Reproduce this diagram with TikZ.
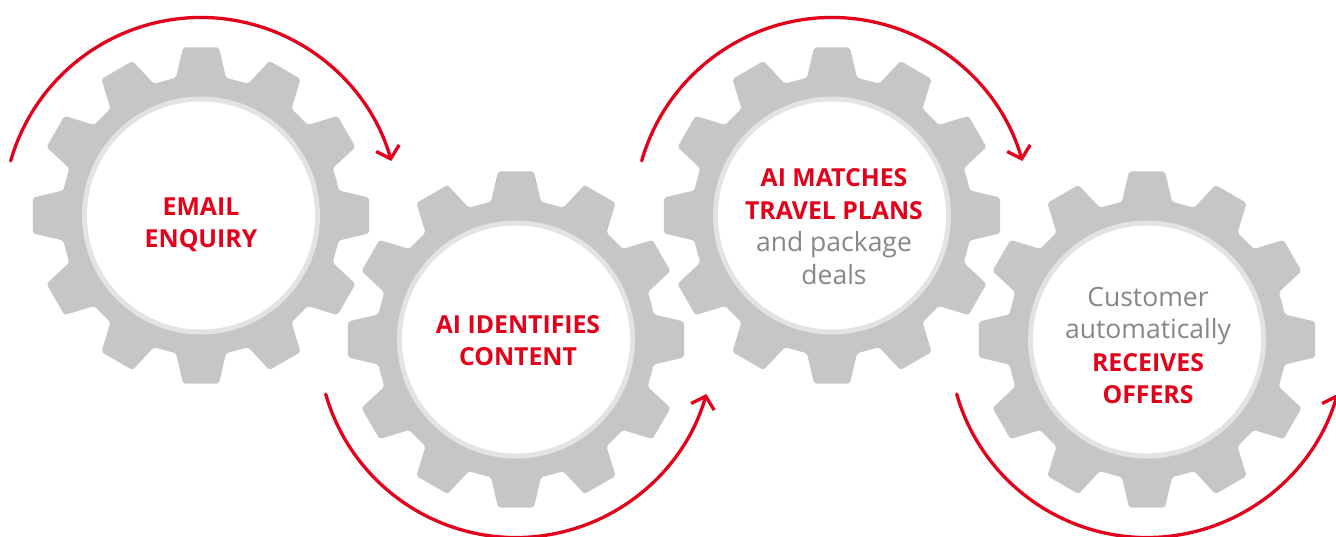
\documentclass[tikz,border=0pt]{standalone}
\usepackage{fontspec}
\setmainfont{Open Sans}
\usetikzlibrary{arrows.meta}
\definecolor{gearbody}{HTML}{C6C6C6}
\definecolor{gearring}{HTML}{E3E3E3}
\definecolor{offerred}{HTML}{E2001A}
\definecolor{notegray}{HTML}{878787}
\newcommand\redbf[1]{\textcolor{offerred}{\fontsize{24.8}{32.5}\selectfont\bfseries #1}}

\begin{document}
\begin{tikzpicture}[x=1pt,y=1pt,
  gear/.pic={
    \fill[gearbody,rounded corners=2pt] (15:140)
      \foreach \a in {30,60,...,360}{
        -- (\a-10.3:140) -- (\a-6.1:169) -- (\a+6.1:169) -- (\a+10.3:140)} -- cycle;
    \fill[gearring] (0,0) circle[radius=119pt];
    \fill[white] (0,0) circle[radius=114pt];
  },
  turn/.style={offerred,line width=3.3pt,line cap=round,
    -{Straight Barb[length=11pt,width=24pt]}},
  steptext/.style={align=center,text=notegray,
    font=\fontsize{26.5}{32.5}\selectfont}]
\useasboundingbox (0,0) rectangle (1336,536);
\clip (0,0) rectangle (1336,536);

\coordinate (g1) at (201,320.5);
\coordinate (g2) at (516,196.5);
\coordinate (g3) at (832,320.5);
\coordinate (g4) at (1147,196.5);

\foreach \g in {g1,g2,g3,g4}
  \pic at (\g) {gear};

\node[steptext] (email) at ([yshift=-9]g1) {\redbf{EMAIL}\\\redbf{ENQUIRY}};
\node[steptext] (ident) at ([xshift=2,yshift=-1]g2) {\redbf{AI IDENTIFIES}\\\redbf{CONTENT}};
\node[steptext] (match) at ([xshift=2,yshift=-11]g3) {\redbf{AI MATCHES}\\\redbf{TRAVEL PLANS}\\and package\\deals};
\node[steptext] (offer) at ([xshift=1,yshift=-6]g4) {Customer\\automatically\\\redbf{RECEIVES}\\\redbf{OFFERS}};

\draw[turn] (g1) ++(164:198) arc[start angle=164,end angle=16,radius=198pt];
\draw[turn] (g2) ++(196:198) arc[start angle=196,end angle=344,radius=198pt];
\draw[turn] (g3) ++(164:198) arc[start angle=164,end angle=16,radius=198pt];
\draw[turn] (g4) ++(196:198) arc[start angle=196,end angle=344,radius=198pt];
\end{tikzpicture}
\end{document}
